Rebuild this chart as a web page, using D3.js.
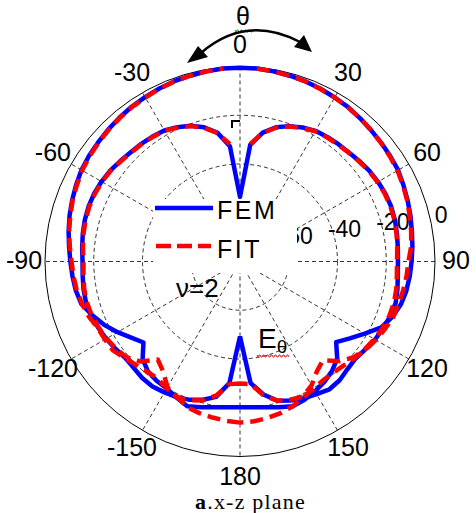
<!DOCTYPE html>
<html><head><meta charset="utf-8">
<script src="https://cdn.jsdelivr.net/npm/d3@7"></script>
<style>body{margin:0;background:#fff}svg{display:block}</style>
</head><body><div id="chart"></div>
<script>
// ---- data ----
const angles = [-180,-175,-170,-165,-160,-155,-150,-145,-140,-135,-130,-125,-120,-115,-110,-105,-100,-95,-90,-85,-80,-75,-70,-65,-60,-55,-50,-45,-40,-35,-30,-25,-20,-15,-10,-5,0,5,10,15,20,25,30,35,40,45,50,55,60,65,70,75,80,85,90,95,100,105,110,115,120,125,130,135,140,145,150,155,160,165,170,175,180];
// FEM, outer pattern (dB)
const femOuter = [-20.2,-20.0,-19.3,-18.1,-16.8,-18.4,-19.9,-20.3,-21.2,-23.5,-28.3,-25.5,-22.0,-18.5,-15.5,-12.6,-11.6,-11.0,-10.4,-9.6,-8.6,-7.6,-6.7,-5.8,-4.9,-4.4,-4.0,-3.5,-3.0,-2.5,-2.1,-1.7,-1.3,-1.1,-0.8,-0.5,-0.5,-0.5,-0.8,-1.1,-1.4,-1.8,-2.3,-2.7,-3.3,-3.9,-4.3,-4.7,-5.1,-6.0,-6.8,-7.6,-8.4,-9.0,-9.6,-10.1,-10.7,-11.7,-13.5,-16.0,-20.9,-25.0,-28.5,-23.6,-21.3,-19.7,-18.5,-17.4,-16.8,-18.1,-19.3,-20.0,-20.2];
// FEM, inner pattern (dB)
const femInner = [-49.2,-29.9,-23.6,-21.3,-19.6,-18.6,-18.0,-17.4,-17.6,-18.3,-18.5,-17.6,-16.6,-15.8,-15.0,-14.6,-14.8,-15.2,-15.4,-15.0,-14.5,-14.1,-13.9,-14.0,-14.4,-15.0,-15.9,-16.6,-17.0,-17.4,-17.9,-19.2,-20.7,-23.0,-26.3,-32.5,-53.5,-32.0,-26.3,-23.0,-20.9,-19.3,-18.1,-17.6,-17.2,-16.8,-16.0,-15.2,-14.6,-14.2,-14.0,-14.2,-14.6,-15.0,-15.2,-15.0,-14.4,-13.9,-14.4,-15.2,-16.0,-17.2,-18.1,-17.6,-16.4,-16.0,-17.2,-18.1,-19.3,-20.9,-24.6,-29.9,-49.2];
// FIT, outer pattern (dB)
const fitOuter = [-13.9,-14.4,-15.0,-15.6,-16.4,-18.9,-19.9,-21.3,-20.9,-19.9,-18.3,-16.4,-16.0,-15.6,-14.0,-12.9,-12.0,-11.4,-10.9,-9.9,-8.8,-7.9,-6.9,-6.1,-5.2,-4.7,-4.2,-3.7,-3.2,-2.7,-2.3,-1.8,-1.4,-1.1,-0.8,-0.5,null,-0.5,-0.8,-1.1,-1.4,-1.9,-2.3,-2.8,-3.3,-3.9,-4.4,-4.9,-5.4,-6.2,-7.0,-7.9,-8.7,-9.5,-10.9,-11.4,-12.0,-12.7,-13.1,-14.4,-15.6,-17.0,-18.5,-19.7,-20.5,-20.5,-19.7,-18.5,-16.8,-15.6,-14.8,-14.2,-13.9];
// FIT, inner pattern (dB)
const fitInner = [-29.9,-29.5,-24.2,-21.0,-19.5,-18.5,-20.5,-25.0,-27.5,-22.0,-19.0,-17.8,-16.8,-16.0,-15.3,-15.0,-15.1,-15.5,-15.8,-15.3,-14.8,-14.4,-14.2,-14.3,-14.6,-15.2,-16.1,-16.8,-17.2,-17.6,-18.1,-19.4,-20.9,-23.2,-26.5,-31.6,null,-31.6,-26.5,-23.2,-21.1,-19.5,-18.3,-17.8,-17.4,-16.9,-16.2,-15.4,-14.8,-14.4,-14.3,-14.4,-14.8,-15.2,-15.6,-15.4,-14.9,-14.6,-14.8,-15.4,-16.4,-17.4,-18.9,-22.2,-27.1,-25.0,-21.3,-18.9,-19.7,-20.9,-24.2,-29.5,-29.9];
const angleTicks = [0,30,60,90,120,150,180,-150,-120,-90,-60,-30];
const angleLabels = ["0","30","60","90","120","150","180","-150","-120","-90","-60","-30"];
const ringTicks = [-60,-40,-20,0];
const ringLabels = ["-60","-40","-20","0"];
const legendNames = ["FEM","FIT"];

// ---- layout ----
const W = 476, H = 513, cx = 240, cy = 261.5, R = 195;
const FONT = "'Liberation Sans', Arial, Helvetica, sans-serif";
const svg = d3.select("#chart").append("svg").attr("width", W).attr("height", H);
svg.append("rect").attr("width", W).attr("height", H).attr("fill", "#fff");
const r = d3.scaleLinear().domain([-80, 0]).range([0, R]);
const rad = d => d * Math.PI / 180;
const px = (a, rr) => cx + rr * Math.sin(rad(a));
const py = (a, rr) => cy - rr * Math.cos(rad(a));

const g = svg.append("g");
[0,30,60,90,120,150].forEach(a => {
  g.append("line").attr("x1", px(a, R)).attr("y1", py(a, R)).attr("x2", px(a + 180, R)).attr("y2", py(a + 180, R))
    .attr("stroke", "#000").attr("stroke-width", 0.8).attr("stroke-dasharray", "4,3");
});
ringTicks.forEach(t => {
  g.append("circle").attr("cx", cx).attr("cy", cy).attr("r", r(t)).attr("fill", "none")
    .attr("stroke", "#000").attr("stroke-width", t === 0 ? 1 : 0.8)
    .attr("stroke-dasharray", t === 0 ? null : "4,3");
});
angleTicks.forEach((a, i) => {
  g.append("text").attr("x", px(a, R + 21)).attr("y", py(a, R + 21) - 2)
    .attr("text-anchor", "middle").attr("dominant-baseline", "central")
    .attr("font-family", FONT).attr("font-size", 25).text(angleLabels[i]);
});
ringTicks.forEach((t, i) => {
  g.append("text").attr("x", px(82, r(t)) + 8).attr("y", py(82, r(t)) - 19)
    .attr("text-anchor", "middle").attr("dominant-baseline", "central")
    .attr("font-family", FONT).attr("font-size", 23).text(ringLabels[i]);
});

const line = d3.lineRadial().defined(d => d.v != null)
  .angle(d => rad(d.a)).radius(d => r(d.v));
const plot = svg.append("g").attr("transform", `translate(${cx},${cy})`);
const series = [
  {vals: femOuter, color: "#0000ff", dash: null},
  {vals: femInner, color: "#0000ff", dash: null},
  {vals: fitOuter, color: "#ff0000", dash: "13,7"},
  {vals: fitInner, color: "#ff0000", dash: "13,7"}
];
series.forEach(s => {
  const data = angles.map((a, i) => ({a: a, v: s.vals[i]}));
  plot.append("path").attr("d", line(data)).attr("fill", "none")
    .attr("stroke", s.color).attr("stroke-width", 4.5)
    .attr("stroke-linejoin", "round")
    .attr("stroke-dasharray", s.dash);
});

const lg = svg.append("g");
lg.append("rect").attr("x", 153).attr("y", 199).attr("width", 144).attr("height", 74).attr("fill", "#fff");
lg.append("line").attr("x1", 155).attr("x2", 213).attr("y1", 208).attr("y2", 208).attr("stroke", "#0000ff").attr("stroke-width", 4.5);
lg.append("line").attr("x1", 156).attr("x2", 211).attr("y1", 246).attr("y2", 246).attr("stroke", "#ff0000").attr("stroke-width", 4.5).attr("stroke-dasharray", "15,6");
lg.append("text").attr("x", 217).attr("y", 219).attr("font-family", FONT).attr("font-size", 25).attr("letter-spacing", 2.5).text(legendNames[0]);
lg.append("text").attr("x", 217).attr("y", 258).attr("font-family", FONT).attr("font-size", 25).attr("letter-spacing", 2.5).text(legendNames[1]);

const an = svg.append("g");
an.append("text").attr("x", 243).attr("y", 25).attr("text-anchor", "middle").attr("font-family", FONT).attr("font-size", 25).text("θ");
let sq = "M235,30";
for (let x = 235; x < 253; x += 2) sq += ` L${x + 1},${(x - 235) % 4 === 0 ? 32 : 30} L${x + 2},${(x - 235) % 4 === 0 ? 30 : 32}`;
an.append("path").attr("d", sq).attr("fill", "none").attr("stroke", "#2a9a2a").attr("stroke-width", 1);
an.append("path").attr("d", "M201,53 Q246,14 300,42").attr("fill", "none").attr("stroke", "#000").attr("stroke-width", 2.5);
an.append("path").attr("d", "M187,63 L198,46 L208,57 Z").attr("fill", "#000");
an.append("path").attr("d", "M312,52 L294,47 L304,35 Z").attr("fill", "#000");
an.append("path").attr("d", "M232,128 V121 H240").attr("fill", "none").attr("stroke", "#000").attr("stroke-width", 2);
an.append("text").attr("x", 176).attr("y", 297).attr("font-family", FONT).attr("font-size", 26).text("ν=2");
const et = an.append("text").attr("x", 258).attr("y", 348).attr("font-family", FONT).attr("font-size", 28);
et.append("tspan").text("E");
et.append("tspan").attr("font-size", 19).attr("dy", 5).text("θ");
let sq2 = "M257,355";
for (let x = 257; x < 288; x += 2) sq2 += ` L${x + 1},${(x - 257) % 4 === 0 ? 357 : 355} L${x + 2},${(x - 257) % 4 === 0 ? 355 : 357}`;
an.append("path").attr("d", sq2).attr("fill", "none").attr("stroke", "#e02020").attr("stroke-width", 1);

const cap = svg.append("text").attr("x", 195).attr("y", 509).attr("font-family", "'Liberation Serif', 'Times New Roman', serif").attr("font-size", 22).attr("letter-spacing", 1.2);
cap.append("tspan").attr("font-weight", "bold").text("a");
cap.append("tspan").text(".x-z plane");
</script>
</body></html>
